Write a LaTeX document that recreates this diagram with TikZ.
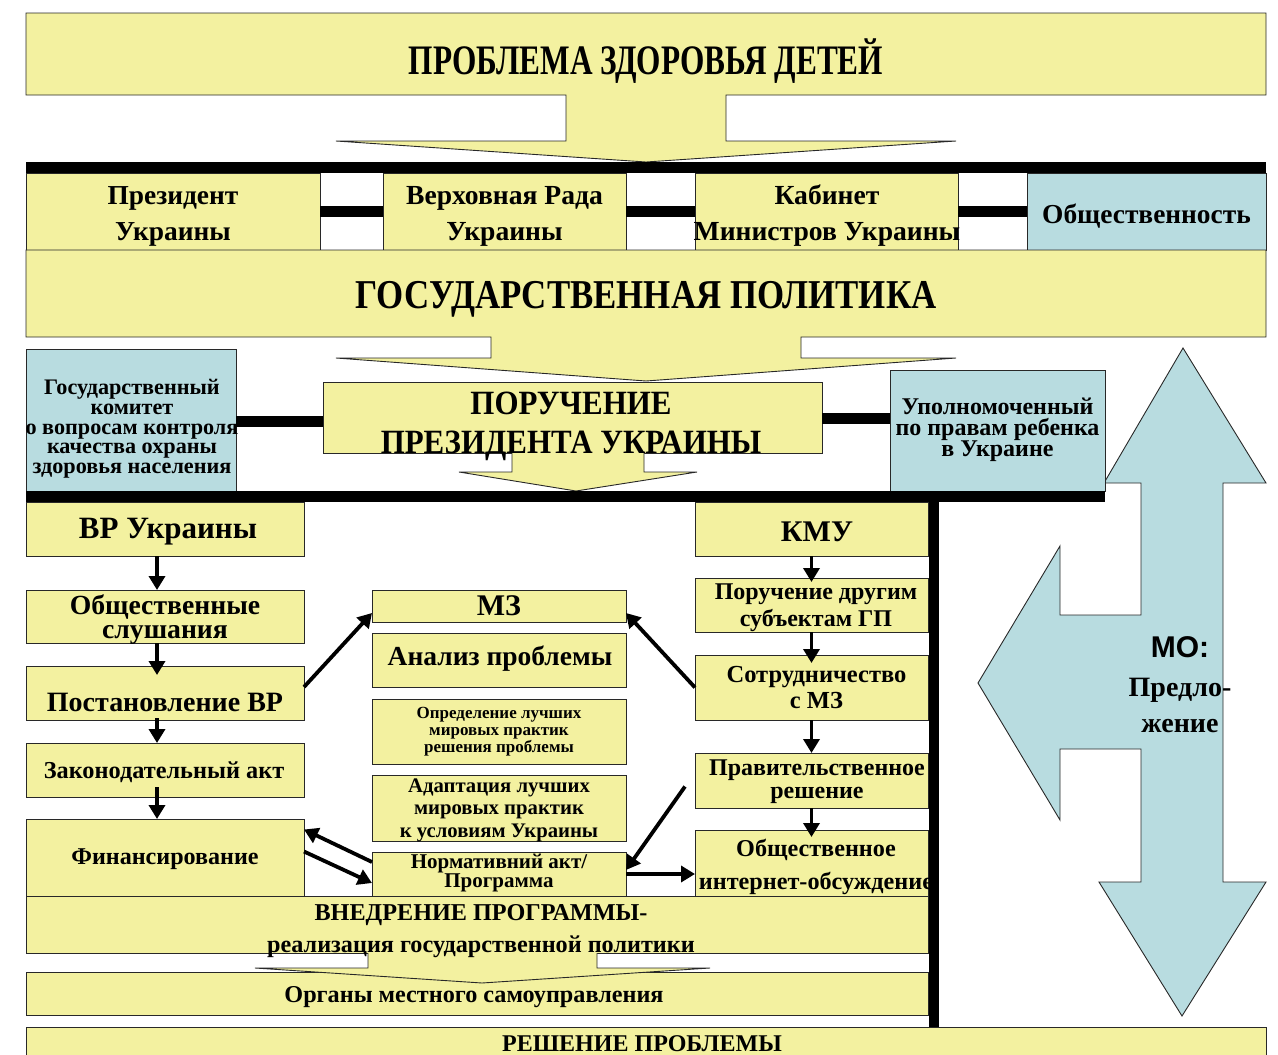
\documentclass[tikz,border=0pt]{standalone}
\usepackage{fontspec}
\usepackage{graphicx}
\setmainfont{Liberation Serif}
\newfontfamily\sansf{Liberation Sans}
\newfontfamily\cnf[FakeStretch=0.91]{Liberation Serif}
\usetikzlibrary{arrows.meta,calc}
\definecolor{yel}{RGB}{243,241,160}
\definecolor{blu}{RGB}{184,220,224}
\definecolor{edge}{RGB}{40,40,40}
\newcommand\fs[2]{\fontsize{#1}{#2}\selectfont\bfseries}
\begin{document}
\begin{tikzpicture}[x=1pt,y=-1pt,
  box/.style={draw=edge,line width=0.9pt,fill=yel,inner sep=0pt,outer sep=0pt,align=center,text=black},
  bbox/.style={box,fill=blu},
  txt/.style={inner sep=0pt,align=center,text=black},
  outl/.style={draw=edge,line width=0.9pt},
  barline/.style={line width=11pt,black},
  arr/.style={line width=3.8pt,-{Triangle[length=14pt,width=16pt]}},
]
\useasboundingbox (0,0) rectangle (1278,1055);

% blue double arrow with left arrow
\path[bbox] (1183,348) -- (1266,483) -- (1223,483) -- (1223,882) -- (1266,882) -- (1182,1016) -- (1099,882) -- (1141,882) -- (1141,749) -- (1060,749) -- (1060,820) -- (978,683) -- (1060,546) -- (1060,615) -- (1141,615) -- (1141,483) -- (1104,483) -- cycle;
\node[txt,font=\sansf\bfseries\fontsize{30}{30}\selectfont] (mo) at (1180,647) {МО:};
\node[txt,font=\fs{28}{36}] (pred) at (1180,705) {Предло-\\жение};

% top problem box with arrow
\path[box] (26,13) -- (1266,13) -- (1266,95) -- (726,95) -- (726,141) -- (956,141) -- (646,162) -- (336,141) -- (566,141) -- (566,95) -- (26,95) -- cycle;
\node[txt,font=\fs{42}{42}] (prob) at (646,61) {\scalebox{0.745}[1]{ПРОБЛЕМА ЗДОРОВЬЯ ДЕТЕЙ}};

% black bar
\fill (26,162) rectangle (1266,173);

% top row
\node[box,minimum width=294,minimum height=77] (pres) at (173,211.5) {};
\node[box,minimum width=243,minimum height=77] (rada) at (504.5,211.5) {};
\node[box,minimum width=263,minimum height=77] (kab) at (826.5,211.5) {};
\node[bbox,minimum width=239,minimum height=77] (obshch) at (1146.5,211.5) {};
\draw[barline] (pres) -- (rada);
\draw[barline] (rada) -- (kab);
\draw[barline] (kab) -- (obshch);
\node[txt,font=\fs{27.4}{36}] (prest) at (173,216) {Президент\\Украины};
\node[txt,font=\fs{27.6}{36}] (radat) at (504.5,216) {Верховная Рада\\Украины};
\node[txt,font=\fs{27.6}{36}] (kabt) at (827,216) {Кабинет\\Министров Украины};
\node[txt,font=\fs{27.4}{36}] (obshcht) at (1146.5,216) {Общественность};

% state policy with arrow
\path[box] (26,250) -- (1266,250) -- (1266,337) -- (801,337) -- (801,358) -- (956,358) -- (646,381) -- (336,358) -- (491,358) -- (491,337) -- (26,337) -- cycle;
\node[txt,font=\fs{41}{41}] (gp) at (646,299) {\scalebox{0.85}[1]{ГОСУДАРСТВЕННАЯ ПОЛИТИКА}};

% side boxes
\node[bbox,minimum width=210,minimum height=142] (gk) at (131,420) {};
\node[txt,font=\fs{22.2}{19.7}] (gkt) at (132,429) {Государственный\\комитет\\о вопросам контроля\\качества охраны\\здоровья населения};
\node[bbox,minimum width=215,minimum height=121] (upol) at (997.5,430.5) {};
\node[txt,font=\fs{24}{21}] (upolt) at (997.5,430) {Уполномоченный\\по правам ребенка\\в Украине};

% poruchenie box with arrow
\node[box,minimum width=499,minimum height=71] (por) at (572.5,417.5) {};
\fill[yel] (644,452) -- (644,472) -- (697,472) -- (576,491) -- (459,472) -- (512,472) -- (512,452) -- cycle;
\draw[outl] (644,453) -- (644,472) -- (697,472) -- (576,491) -- (459,472) -- (512,472) -- (512,453);
\draw[barline] ([yshift=-1pt]gk.east) -- ([yshift=-1pt]gk.east -| por.west);
\draw[barline] ([yshift=-1pt]por.east) -- ([yshift=-1pt]por.east -| upol.west);
\node[txt,font=\cnf\fs{34}{39}] (port) at (571,426) {ПОРУЧЕНИЕ\\ПРЕЗИДЕНТА УКРАИНЫ};

% horizontal bar
\fill (26,491) rectangle (1105,502);

% left column
\node[box,minimum width=278,minimum height=54] (vr) at (165,529) {};
\node[txt,font=\fs{31}{36}] (vrt) at (168,532) {ВР Украины};
\node[box,minimum width=278,minimum height=53] (obs) at (165,616.5) {};
\node[txt,font=\fs{27.7}{24}] (obst) at (165,619.5) {Общественные\\слушания};
\node[box,minimum width=278,minimum height=54] (post) at (165,693) {};
\node[txt,font=\fs{28}{30}] (postt) at (165,702) {Постановление ВР};
\node[box,minimum width=278,minimum height=54] (zak) at (165,770) {};
\node[txt,font=\fs{24.3}{30}] (zakt) at (164,772) {Законодательный акт};
\node[box,minimum width=278,minimum height=77] (fin) at (165,857.5) {};
\node[txt,font=\fs{24.1}{30}] (fint) at (165,859) {Финансирование};

% middle column
\node[box,minimum width=254,minimum height=32,font=\fs{30}{30}] (mz) at (499,606) {МЗ};
\node[box,minimum width=254,minimum height=54] (an) at (499,660) {};
\node[txt,font=\fs{27.5}{30}] (ant) at (500,659) {Анализ проблемы};
\node[box,minimum width=254,minimum height=65] (opr) at (499,731.5) {};
\node[txt,font=\fs{17}{17}] (oprt) at (499,731.5) {Определение лучших\\мировых практик\\решения проблемы};
\node[box,minimum width=254,minimum height=66] (ad) at (499,808) {};
\node[txt,font=\fs{20.7}{22.5}] (adt) at (499,810) {Адаптация лучших\\мировых практик\\к условиям Украины};
\node[box,minimum width=254,minimum height=44] (norm) at (499,874) {};
\node[txt,font=\fs{21}{16.5}] (normt) at (499,873) {Нормативний акт/\\Программа};

% right column
\node[box,minimum width=233,minimum height=54] (kmu) at (811.5,529) {};
\node[txt,font=\fs{30}{36}] (kmut) at (817,532) {КМУ};
\node[box,minimum width=233,minimum height=54] (por2) at (811.5,605) {};
\node[txt,font=\fs{24}{27}] (por2t) at (816,608) {Поручение другим\\субъектам ГП};
\node[box,minimum width=233,minimum height=65] (sot) at (811.5,687.5) {};
\node[txt,font=\fs{24.5}{26}] (sott) at (816.5,688) {Сотрудничество\\с МЗ};
\node[box,minimum width=233,minimum height=55] (prav) at (811.5,780.5) {};
\node[txt,font=\fs{24}{23}] (pravt) at (817,782) {Правительственное\\решение};
\node[box,minimum width=233,minimum height=66] (obsch) at (811.5,863) {};
\node[txt,font=\fs{24.2}{33}] (obscht) at (816,867) {Общественное\\интернет-обсуждение};

% vertical arrows
\draw[arr] ([xshift=-8pt]vr.south) -- ([xshift=-8pt]obs.north);
\draw[arr] ([xshift=-8pt]obs.south) -- ([xshift=-8pt,yshift=-9pt]post.north);
\draw[arr] ([xshift=-8pt,yshift=2pt]post.south) -- ([xshift=-8pt]zak.north);
\draw[arr] ([xshift=-8pt,yshift=10pt]zak.south) -- ([xshift=-8pt]fin.north);
\draw[arr] (kmu.south) -- ([yshift=-4pt]por2.north);
\draw[arr] (por2.south) -- ([yshift=-8pt]sot.north);
\draw[arr] (sot.south) -- (prav.north);
\draw[arr] (prav.south) -- ([yshift=-7pt]obsch.north);

% diagonal arrows
\draw[arr] ([yshift=6pt]post.east) -- ([yshift=-7pt]mz.west);
\draw[arr] (sot.west) -- ([yshift=-7pt]mz.east);
\draw[arr] ([xshift=-10pt,yshift=-6pt]prav.west) -- ([yshift=4pt]norm.east);
\draw[arr] (norm.east) -- (norm.east -| obsch.west);
\draw[arr] ([yshift=12pt]norm.west) -- ([yshift=28pt]fin.east);
\draw[arr] ([yshift=6pt]fin.east) -- ([yshift=-9pt]norm.west);

% implementation box
\node[box,minimum width=902,minimum height=57] (vn) at (477,924.5) {};
\node[box,minimum width=902,minimum height=43] (org) at (477,993.5) {};
\fill[yel] (597,952) -- (597,968) -- (710,968) -- (482,983) -- (255,968) -- (368,968) -- (368,952) -- cycle;
\draw[outl] (597,953) -- (597,968) -- (710,968) -- (482,983) -- (255,968) -- (368,968) -- (368,953);
\node[txt,font=\fs{24.2}{32}] (vnt) at (481,931) {ВНЕДРЕНИЕ ПРОГРАММЫ-\\реализация государственной политики};
\node[txt,font=\fs{24.2}{30}] (orgt) at (474,997) {Органы местного самоуправления};

% vertical bar
\fill (929,491) rectangle (939,1027);

% solution box
\fill[yel] (26,1027) rectangle (1266,1060);
\draw[outl] (26,1060) -- (26,1027) -- (1266,1027) -- (1266,1060);
\node[txt,font=\fs{24}{30}] (resh) at (642,1044) {РЕШЕНИЕ ПРОБЛЕМЫ};
\end{tikzpicture}
\end{document}
